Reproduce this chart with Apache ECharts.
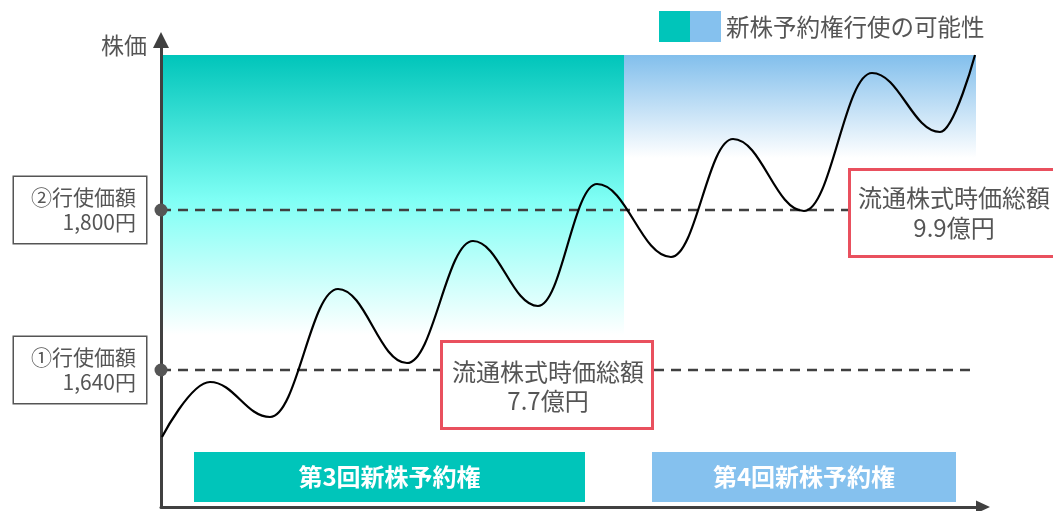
<!DOCTYPE html>
<html>
<head>
<meta charset="utf-8">
<script src="https://cdn.jsdelivr.net/npm/echarts@6/dist/echarts.min.js"></script>
<style>
html,body{margin:0;padding:0;background:#fff;}
#chart{width:1053px;height:511px;}
</style>
</head>
<body>
<div id="chart"></div>
<script>
// ---- data (time index, price in 円) ----
const timeIdx = [1, 49, 109, 177, 246, 312, 377, 436, 510, 572, 643, 711, 779, 814];
const prices  = [1573, 1628, 1593, 1721, 1647, 1769, 1704, 1826, 1753, 1871, 1799, 1937, 1878, 1955];
const exercisePrices = [1640, 1800];
const exerciseLabels = ['①行使価額\n1,640円', '②行使価額\n1,800円'];
const refLineRange = [0, 814];
const possibilityTime = [[2, 463], [463, 815]];
const possibilityPrice = [[1675, 1955], [1852, 1955]];
const periodNames = ['第3回新株予約権', '第4回新株予約権'];
const periodTime = [[33, 424], [491, 795]];
const periodPrice = [1508, 1558];
const marketCapLabels = ['流通株式時価総額\n7.7億円', '流通株式時価総額\n9.9億円'];
const legendText = '新株予約権行使の可能性';
const yName = '株価';

const TEAL = '#00C5BA', BLUE = '#85C1EE', RED = '#E9505E', GRAY = '#555555', AX = '#404040';
const FONT = '"Noto Sans CJK JP", "Noto Sans", sans-serif';

const chart = echarts.init(document.getElementById('chart'), null, {renderer: 'canvas'});

const gradTeal = {type: 'linear', x: 0, y: 0, x2: 0, y2: 1, colorStops: [
  {offset: 0, color: '#00C5BA'}, {offset: 0.52, color: '#80FFF5'}, {offset: 1, color: '#FFFFFF'}]};
const gradBlue = {type: 'linear', x: 0, y: 0, x2: 0, y2: 1, colorStops: [
  {offset: 0, color: '#82BFEC'}, {offset: 1, color: '#FFFFFF'}]};

const lineData = timeIdx.map((t, i) => [t, prices[i]]);

const refSeries = exercisePrices.map(p => ({
  type: 'line', z: 3, zlevel: 0, silent: true, clip: false,
  symbol: 'circle', symbolSize: 13, showSymbol: true, showAllSymbol: true,
  data: [
    {value: [refLineRange[0], p]},
    {value: [refLineRange[1], p], symbol: 'none'}
  ],
  itemStyle: {color: '#555555'},
  lineStyle: {color: '#404040', width: 2.5, type: [10, 7]},
  animation: false
}));

const option = {
  animation: false,
  grid: {left: 161, right: 70, top: 40, bottom: 4, containLabel: false},
  xAxis: {
    type: 'value', min: 0, max: 822,
    axisLine: {onZero: false, lineStyle: {color: AX, width: 3}, symbol: ['none', 'triangle'], symbolSize: [13, 14]},
    axisTick: {show: false}, axisLabel: {show: false}, splitLine: {show: false}
  },
  yAxis: {
    type: 'value', min: 1503, max: 1970,
    name: yName, nameLocation: 'end', nameGap: -5,
    nameTextStyle: {color: GRAY, fontSize: 23, fontFamily: FONT, align: 'right', verticalAlign: 'middle', padding: [0, 14, 0, 0]},
    axisLine: {onZero: false, lineStyle: {color: AX, width: 3}, symbol: ['none', 'triangle'], symbolSize: [16, 16]},
    axisTick: {show: false}, splitLine: {show: false},
    axisLabel: {
      show: true,
      customValues: exercisePrices,
      formatter: v => exerciseLabels[exercisePrices.indexOf(v)] || '',
      color: GRAY, fontSize: 21, fontFamily: FONT, lineHeight: 25,
      align: 'right', verticalAlign: 'middle',
      borderColor: '#555555', borderWidth: 1.5, backgroundColor: '#fff',
      padding: [8, 10, 8, 10], width: 112, margin: 15
    }
  },
  series: [
    {
      type: 'line', z: 1, data: [], silent: true,
      markArea: {
        silent: true,
        data: [
          [{coord: [possibilityTime[0][0], possibilityPrice[0][1]], itemStyle: {color: gradTeal}},
           {coord: [possibilityTime[0][1], possibilityPrice[0][0]]}],
          [{coord: [possibilityTime[1][0], possibilityPrice[1][1]], itemStyle: {color: gradBlue}},
           {coord: [possibilityTime[1][1], possibilityPrice[1][0]]}]
        ]
      }
    },
    {
      type: 'line', z: 1, data: [], silent: true,
      markArea: {
        silent: true,
        label: {show: true, position: 'inside', color: '#fff', fontSize: 24, fontWeight: 'bold', fontFamily: FONT},
        data: periodNames.map((n, i) => [
          {name: n, coord: [periodTime[i][0], periodPrice[1]], itemStyle: {color: i === 0 ? TEAL : BLUE, opacity: 1}},
          {coord: [periodTime[i][1], periodPrice[0]]}
        ])
      }
    },
    ...refSeries,
    {
      type: 'line', z: 5, data: lineData, smooth: 0.4, smoothMonotone: 'x',
      showSymbol: false, lineStyle: {color: '#000', width: 2.2}, silent: true
    }
  ],
  graphic: [
    {type: 'rect', z: 100, shape: {x: 659, y: 11, width: 31, height: 31}, style: {fill: TEAL}},
    {type: 'rect', z: 100, shape: {x: 690, y: 11, width: 31, height: 31}, style: {fill: BLUE}},
    {type: 'text', z: 100, x: 726, y: 27, style: {text: legendText, fill: GRAY, font: '23.5px ' + FONT, textVerticalAlign: 'middle', verticalAlign: 'middle'}},
    {type: 'rect', z: 100, shape: {x: 441.5, y: 341.5, width: 211, height: 87}, style: {fill: '#fff', stroke: RED, lineWidth: 3}},
    {type: 'text', z: 101, x: 548, y: 386, style: {text: marketCapLabels[0], fill: GRAY, font: '24px ' + FONT, align: 'center', verticalAlign: 'middle', lineHeight: 29}},
    {type: 'rect', z: 100, shape: {x: 849.5, y: 169.5, width: 220, height: 87}, style: {fill: '#fff', stroke: RED, lineWidth: 3}},
    {type: 'text', z: 101, x: 954, y: 213, style: {text: marketCapLabels[1], fill: GRAY, font: '24px ' + FONT, align: 'center', verticalAlign: 'middle', lineHeight: 30}}
  ]
};
chart.setOption(option);
</script>
</body>
</html>
